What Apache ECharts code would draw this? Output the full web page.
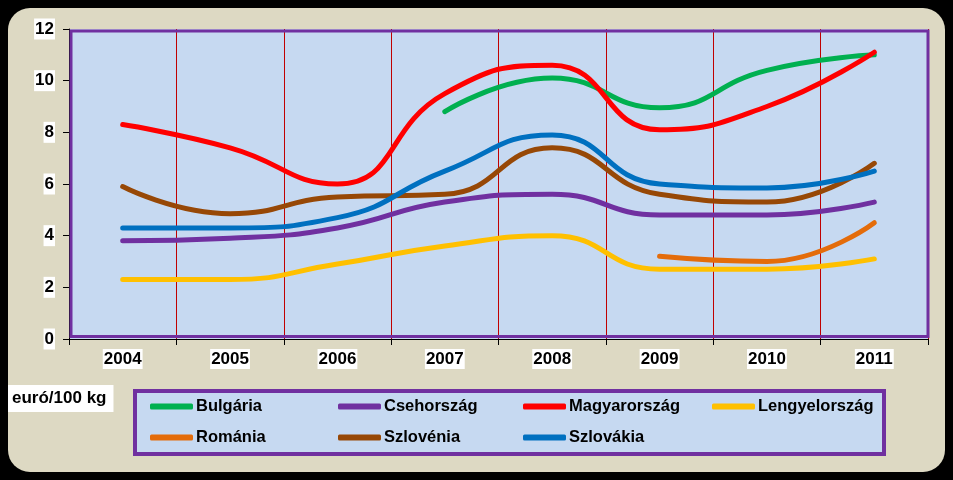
<!DOCTYPE html>
<html><head><meta charset="utf-8">
<script src="https://cdn.jsdelivr.net/npm/echarts@6/dist/echarts.min.js"></script>
<style>html,body{margin:0;padding:0;background:#000;}#c{width:953px;height:480px;}</style>
</head><body><div id="c"></div>
<script>
const years = ['2004','2005','2006','2007','2008','2009','2010','2011'];
const bulgaria      = [null, null, null, 8.8, 10.1, 8.95, 10.4, 11.0];
const csehorszag    = [3.8, 3.9, 4.3, 5.3, 5.6, 4.8, 4.8, 5.3];
const magyarorszag  = [8.3, 7.4, 6.0, 9.5, 10.6, 8.1, 9.0, 11.1];
const lengyelorszag = [2.3, 2.3, 2.9, 3.6, 4.0, 2.7, 2.7, 3.1];
const romania       = [null, null, null, null, null, 3.2, 3.0, 4.5];
const szlovenia     = [5.9, 4.85, 5.5, 5.6, 7.4, 5.6, 5.3, 6.8];
const szlovakia     = [4.3, 4.3, 4.7, 6.5, 7.9, 6.0, 5.85, 6.5];
const yTicks = [0, 2, 4, 6, 8, 10, 12];

const seriesDefs = [
  ['Bulgária', bulgaria, '#00B050'],
  ['Csehország', csehorszag, '#7030A0'],
  ['Magyarország', magyarorszag, '#FF0000'],
  ['Lengyelország', lengyelorszag, '#FFC000'],
  ['Románia', romania, '#E46C0A'],
  ['Szlovénia', szlovenia, '#974806'],
  ['Szlovákia', szlovakia, '#0070C0']
];
const legendPos = [[150,398],[338,398],[523,398],[712,398],[150,429],[338,429],[523,429]];
const font = 'Liberation Sans, Arial, sans-serif';

const chart = echarts.init(document.getElementById('c'));
chart.setOption({
  backgroundColor: '#000',
  animation: false,
  graphic: [
    {type:'rect', z:-10, shape:{x:8,y:8,width:937,height:464,r:22}, style:{fill:'#DDD9C3'}},
    {type:'rect', z:-5, shape:{x:135,y:391,width:749,height:63}, style:{fill:'#C6D9F1', stroke:'#7030A0', lineWidth:4}},
    {type:'rect', z:10, shape:{x:71,y:31,width:857,height:305.5}, style:{fill:null, stroke:'#7030A0', lineWidth:3}},
    {type:'text', z:5, left:8, top:385, style:{text:'euró/100 kg', font:'bold 17px '+font, fill:'#000', backgroundColor:'#fff', padding:[5,7,5,4]}}
  ],
  grid: {left:69, top:29, right:25, bottom:141, show:true, backgroundColor:'#C6D9F1', borderWidth:0},
  legend: seriesDefs.map((s,i)=>({
    data:[s[0]], left:legendPos[i][0], top:legendPos[i][1], padding:0,
    icon:'roundRect', itemWidth:43, itemHeight:6, itemGap:0,
    textStyle:{fontFamily:font, fontWeight:'bold', fontSize:16.5, color:'#000', lineHeight:17, padding:[0,0,0,-2]}
  })),
  xAxis: {
    type:'category', data:years, boundaryGap:true,
    axisLine:{show:true, lineStyle:{color:'#000', width:1}},
    axisTick:{show:true, length:6, lineStyle:{color:'#000'}},
    splitLine:{show:true, lineStyle:{color:'#C00000', width:1}},
    axisLabel:{fontFamily:font, fontWeight:'bold', fontSize:17, color:'#000', backgroundColor:'#fff', padding:[2,1,1,1], margin:10}
  },
  yAxis: {
    type:'value', min:0, max:12, interval:2,
    axisLine:{show:true, lineStyle:{color:'#000', width:1}},
    axisTick:{show:true, length:6, lineStyle:{color:'#000'}},
    splitLine:{show:false},
    axisLabel:{fontFamily:font, fontWeight:'bold', fontSize:17, color:'#000', backgroundColor:'#fff', padding:[2,1,2,1], margin:14,
      formatter:v=>yTicks.includes(v)?String(v):''}
  },
  series: seriesDefs.map(s=>({
    name:s[0], type:'line', data:s[1], smooth:0.5, symbol:'none', connectNulls:false,
    itemStyle:{color:s[2]}, lineStyle:{color:s[2], width:5, cap:'round', join:'round'}
  }))
});
</script></body></html>
